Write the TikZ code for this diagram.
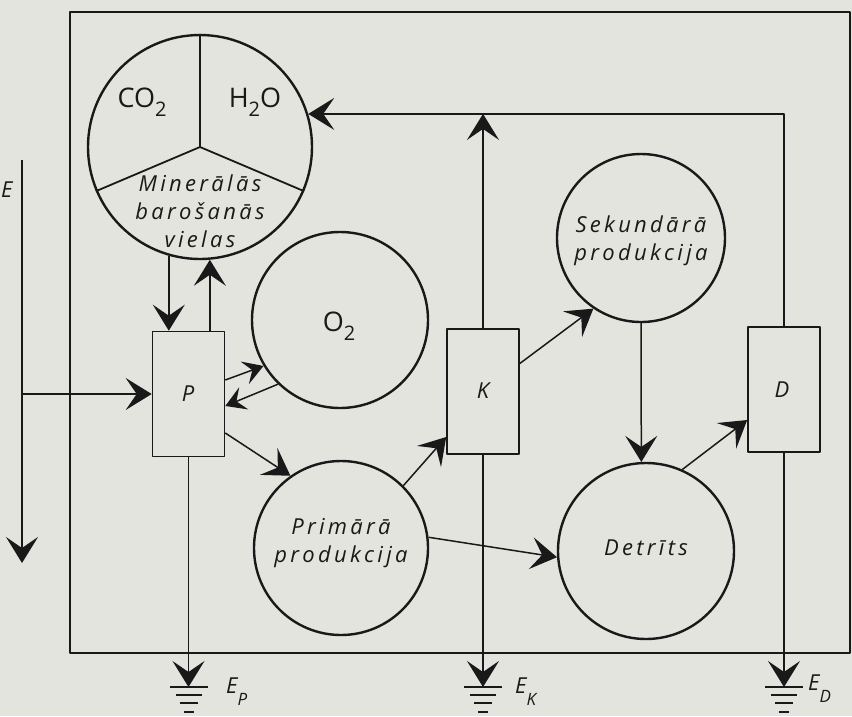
\documentclass[tikz,border=0pt]{standalone}
\usepackage{fontspec}
\setmainfont{Open Sans}
\newfontfamily\lab[LetterSpace=15]{Open Sans}
\usetikzlibrary{arrows.meta,calc}
\definecolor{paper}{RGB}{228,228,222}
\definecolor{ink}{RGB}{25,25,25}
\begin{document}
\begin{tikzpicture}[x=1pt,y=-1pt,line join=round,
  ln/.style={draw=ink,line width=1.5pt},
  arr/.style={ln,-{Stealth[length=26pt,width=32pt,inset=11pt]}},
  arrs/.style={ln,-{Stealth[length=20pt,width=24pt,inset=8pt]}},
  circ/.style={circle,draw=ink,line width=2.4pt,inner sep=0pt},
  box/.style={rectangle,draw=ink,line width=1.6pt,inner sep=0pt,minimum width=72pt,minimum height=125pt},
  lbl/.style={font=\lab\itshape\fontsize{22}{28}\selectfont,align=center,inner sep=0pt,text=ink},
  chem/.style={font=\fontsize{27}{27}\selectfont,inner sep=0pt,text=ink}]
\fill[paper] (0,0) rectangle (852,716);
\useasboundingbox (0,0) rectangle (852,716);
% frame
\draw[ln] (70,12) rectangle (850,653);
% circles
\node[circ,minimum size=224pt] (min) at (200,147) {};
\node[circ,minimum size=176pt] (O2) at (340,320) {};
\node[circ,minimum size=174pt] (prim) at (341,548) {};
\node[circ,minimum size=168pt] (sek) at (641,238) {};
\node[circ,minimum size=176pt] (detr) at (646,551) {};
\draw[ln,line width=1.8pt] (min.center) -- (min.90) (min.center) -- (min.203) (min.center) -- (min.337);
% boxes
\node[box] (P) at (188.5,394) {};
\node[box] (K) at (483,391.5) {};
\node[box] (D) at (784,389.5) {};
% texts
\node[chem] (co2) at (142,102) {CO\raisebox{-9pt}{\fontsize{20}{20}\selectfont 2}};
\node[chem] (h2o) at (255,102) {H\raisebox{-9pt}{\fontsize{20}{20}\selectfont 2}O};
\node[chem] (o2t) at (339,326) {O\raisebox{-9pt}{\fontsize{20}{20}\selectfont 2}};
\node[lbl] (mint) at (200,211) {Minerālās\\barošanās\\vielas};
\node[lbl] (sekt) at (641,241) {Sekundārā\\produkcija};
\node[lbl] (primt) at (341,543) {Primārā\\produkcija};
\node[lbl] (detrt) at (646,548) {Detrīts};
\node[lbl] (Pt) at (188,394) {P};
\node[lbl] (Kt) at (483,391) {K};
\node[lbl] (Dt) at (782,390) {D};
\node[lbl,anchor=west] (Et) at (1,190) {E};
% energy input
\coordinate (Etop) at (22,160);
\coordinate (Ebot) at (22,563);
\draw[arr] (Etop) -- (Ebot);
\draw[arr] (Etop |- P.west) -- (P.west);
% mineral <-> P
\draw[arr] (min.254) -- (min.254 |- P.north);
\draw[arr] (P.north -| min.275) -- (min.275);
% P <-> O2
\draw[arrs] ([yshift=14pt]P.east) -- (O2.211);
\draw[arrs] (O2.226) -- ([yshift=-12pt]P.east);
% flows
\draw[arr] ([yshift=-39pt]P.east) -- (prim.125);
\draw[arr] (prim.45) -- ([yshift=-45.5pt]K.west);
\draw[arr] (prim.7) -- (detr.184);
\draw[arr] ([yshift=28pt]K.east) -- (sek.236);
\draw[arr] (sek.270) -- (detr.93);
\draw[arr] (detr.66) -- ([yshift=-30.5pt]D.west);
% return to minerals
\draw[arr] (D.north) |- (min.17);
\coordinate (topK) at (K.north |- min.17);
\draw[arr] (K.north) -- (topK);
% grounds
\coordinate (gP) at (P.south |- 0,687);
\coordinate (gK) at (K.south |- 0,687);
\coordinate (gD) at (D.south |- 0,687);
\draw[arr] (P.south) -- (gP);
\draw[arr] (K.south) -- (gK);
\draw[arr] (D.south) -- (gD);
\foreach \g in {gP,gK,gD}{
  \draw[ln] ([xshift=-19pt]\g) -- ([xshift=19pt]\g);
  \draw[ln] ([xshift=-13pt,yshift=-8pt]\g) -- ([xshift=13pt,yshift=-8pt]\g);
  \draw[ln] ([xshift=-9pt,yshift=-16pt]\g) -- ([xshift=9pt,yshift=-16pt]\g);
  \draw[ln] ([xshift=-5pt,yshift=-25pt]\g) -- ([xshift=5pt,yshift=-25pt]\g);
}
\node[lbl,anchor=base west] (EP) at (226,693) {E\raisebox{-12pt}{\fontsize{17}{17}\selectfont P}};
\node[lbl,anchor=base west] (EK) at (515,693) {E\raisebox{-12pt}{\fontsize{17}{17}\selectfont K}};
\node[lbl,anchor=base west] (ED) at (808,690) {E\raisebox{-12pt}{\fontsize{17}{17}\selectfont D}};
\end{tikzpicture}
\end{document}
